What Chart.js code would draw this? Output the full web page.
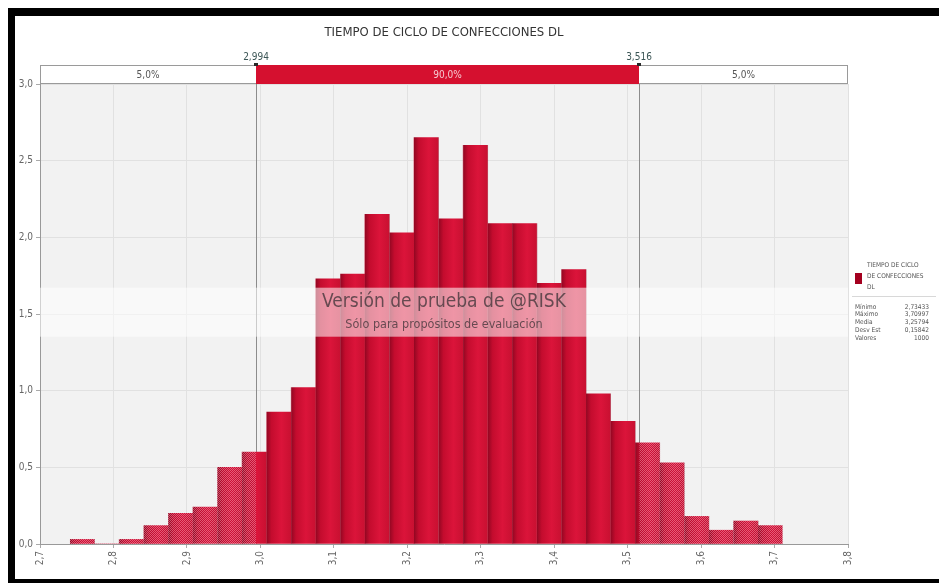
<!DOCTYPE html>
<html><head><meta charset="utf-8">
<script src="https://cdn.jsdelivr.net/npm/chart.js@4.4.1/dist/chart.umd.min.js"></script>
<style>
html,body{margin:0;padding:0;background:#fff;width:939px;height:583px;overflow:hidden}
#frame{position:absolute;left:8px;top:8px;width:960px;height:579px;box-sizing:border-box;border-top:8px solid #000;border-left:7px solid #000;border-bottom:8px solid #000}
#c{position:absolute;left:0;top:0}
</style></head><body>
<div id="frame"></div>
<canvas id="c" width="939" height="583"></canvas>
<script>
const FONT = "'Liberation Sans Narrow','DejaVu Sans Condensed','Arial Narrow',sans-serif";
const titleText = 'TIEMPO DE CICLO DE CONFECCIONES DL';
const binCenters = [2.7576,2.7911,2.8245,2.8580,2.8914,2.9249,2.9583,2.9918,3.0252,3.0587,
  3.0921,3.1256,3.1590,3.1925,3.2259,3.2594,3.2928,3.3263,3.3597,3.3932,
  3.4266,3.4601,3.4935,3.5270,3.5604,3.5939,3.6273,3.6608,3.6942];
const density = [0.03,0.00,0.03,0.12,0.20,0.24,0.50,0.60,0.86,1.02,
  1.73,1.76,2.15,2.03,2.65,2.12,2.60,2.09,2.09,1.70,
  1.79,0.98,0.80,0.66,0.53,0.18,0.09,0.15,0.12];
const xTicks = [2.7,2.8,2.9,3.0,3.1,3.2,3.3,3.4,3.5,3.6,3.7,3.8];
const xTickLabels = ['2,7','2,8','2,9','3,0','3,1','3,2','3,3','3,4','3,5','3,6','3,7','3,8'];
const yTicks = [0,0.5,1.0,1.5,2.0,2.5,3.0];
const yTickLabels = ['0,0','0,5','1,0','1,5','2,0','2,5','3,0'];
const percentileValues = [2.994, 3.516];
const percentileLabels = ['2,994','3,516'];
const bandLabels = ['5,0%','90,0%','5,0%'];
const legendLines = ['TIEMPO DE CICLO','DE CONFECCIONES','DL'];
const statNames = ['Mínimo','Máximo','Media','Desv Est','Valores'];
const statValues = ['2,73433','3,70997','3,25794','0,15842','1000'];
const watermark = ['Versión de prueba de @RISK','Sólo para propósitos de evaluación'];

let patCache = null;
function barFill(ctx){
  const chart = ctx.chart;
  const xs = chart.scales.x, area = chart.chartArea;
  if(!xs || !area) return '#c8102e';
  const key = [area.left,area.right,area.top,area.bottom].join('_');
  if(patCache && patCache.key===key) return patCache.pat;
  const W = chart.width, H = chart.height;
  const off = document.createElement('canvas'); off.width=W; off.height=H;
  const g = off.getContext('2d');
  const half = (binCenters[1]-binCenters[0])/2;
  const pL = xs.getPixelForValue(percentileValues[0]), pR = xs.getPixelForValue(percentileValues[1]);
  binCenters.forEach(c => {
    const x0 = xs.getPixelForValue(c-half), x1 = xs.getPixelForValue(c+half);
    const gr = g.createLinearGradient(x0,0,x1,0);
    gr.addColorStop(0,'#920722'); gr.addColorStop(0.2,'#c40c2e');
    gr.addColorStop(0.6,'#db143a'); gr.addColorStop(1,'#c81031');
    g.fillStyle = gr; g.fillRect(x0, area.top, x1-x0, area.bottom-area.top);
  });
  const tile = document.createElement('canvas'); tile.width=2; tile.height=2;
  const t = tile.getContext('2d');
  t.fillStyle='rgba(255,190,205,0.42)'; t.fillRect(0,0,1,1); t.fillRect(1,1,1,1);
  t.fillStyle='rgba(120,10,50,0.15)'; t.fillRect(1,0,1,1); t.fillRect(0,1,1,1);
  g.fillStyle = g.createPattern(tile,'repeat');
  g.fillRect(area.left, area.top, pL-area.left, area.bottom-area.top);
  g.fillRect(pR, area.top, area.right-pR, area.bottom-area.top);
  const pat = chart.ctx.createPattern(off,'no-repeat');
  patCache = {key, pat};
  return pat;
}

const decor = {
  id:'decor',
  beforeDraw(chart){
    const {ctx, chartArea:a} = chart;
    ctx.save();
    ctx.fillStyle='#f2f2f2';
    ctx.fillRect(a.left, a.top, a.right-a.left, a.bottom-a.top);
    ctx.restore();
  },
  beforeDatasetsDraw(chart){
    const {ctx, chartArea:a, scales:{x}} = chart;
    ctx.save();
    ctx.strokeStyle='#8c8c8c'; ctx.lineWidth=1;
    percentileValues.forEach(v=>{
      const px = Math.round(x.getPixelForValue(v))+0.5;
      ctx.beginPath(); ctx.moveTo(px, a.top-19); ctx.lineTo(px, a.bottom); ctx.stroke();
    });
    ctx.restore();
  },
  afterDatasetsDraw(chart){
    const {ctx, chartArea:a} = chart;
    const cy = a.top + 0.495*(a.bottom-a.top);
    const cx = (a.left+a.right)/2;
    ctx.save();
    ctx.fillStyle='rgba(255,255,255,0.55)';
    ctx.fillRect(a.left, cy-24, a.right-a.left, 49);
    ctx.fillStyle='rgba(70,55,60,0.8)';
    ctx.textAlign='center'; ctx.textBaseline='middle';
    ctx.font = '19px '+FONT;
    ctx.fillText(watermark[0], cx, cy-10);
    ctx.font = '12.5px '+FONT;
    ctx.fillText(watermark[1], cx, cy+13);
    ctx.restore();
  },
  afterDraw(chart){
    const {ctx, chartArea:a, scales:{x}} = chart;
    ctx.save();
    ctx.fillStyle='#333'; ctx.textAlign='center'; ctx.textBaseline='middle';
    ctx.font='13px '+FONT;
    ctx.fillText(titleText, (a.left+a.right)/2, 33);
    const bt = a.top-19, bh = 18;
    const pL = Math.round(x.getPixelForValue(percentileValues[0]));
    const pR = Math.round(x.getPixelForValue(percentileValues[1]));
    ctx.fillStyle='#fff'; ctx.fillRect(a.left, bt, a.right-a.left, bh);
    ctx.strokeStyle='#9a9a9a'; ctx.lineWidth=1;
    ctx.strokeRect(a.left+0.5, bt+0.5, a.right-a.left-1, bh);
    ctx.fillStyle='#d5102f'; ctx.fillRect(pL, bt, pR-pL, bh+1);
    ctx.font='10px '+FONT;
    ctx.fillStyle='#555';
    ctx.fillText(bandLabels[0], (a.left+pL)/2, bt+bh/2+1);
    ctx.fillText(bandLabels[2], (pR+a.right)/2, bt+bh/2+1);
    ctx.fillStyle='#f6c8d0';
    ctx.fillText(bandLabels[1], (pL+pR)/2, bt+bh/2+1);
    ctx.fillStyle='#3c5656';
    [pL,pR].forEach((px,i)=>{ ctx.fillText(percentileLabels[i], px, bt-8); });
    ctx.fillStyle='#2a2a2a';
    [pL,pR].forEach(px=>{ ctx.fillRect(px-2, bt-2, 4, 3); });
    const lx = a.right+7;
    ctx.fillStyle='#a4001f'; ctx.fillRect(lx, 273, 7, 11);
    ctx.fillStyle='#555'; ctx.textAlign='left'; ctx.font='6.5px '+FONT;
    legendLines.forEach((s,i)=>ctx.fillText(s, lx+12, 265+i*11));
    ctx.strokeStyle='#d8d8d8'; ctx.beginPath(); ctx.moveTo(lx-3, 296.5); ctx.lineTo(936, 296.5); ctx.stroke();
    statNames.forEach((s,i)=>{
      const y = 307+i*7.8;
      ctx.textAlign='left'; ctx.fillText(s, lx, y);
      ctx.textAlign='right'; ctx.fillText(statValues[i], 929, y);
    });
    ctx.restore();
  }
};

new Chart(document.getElementById('c'), {
  type:'bar',
  data:{ datasets:[{
    data: binCenters.map((c,i)=>({x:c, y:density[i]})),
    backgroundColor: barFill,
    borderWidth:0,
    barPercentage:1, categoryPercentage:1, grouped:false
  }]},
  options:{
    responsive:false, animation:false,
    layout:{padding:{top:84,right:91,bottom:9,left:0}},
    plugins:{legend:{display:false}, tooltip:{enabled:false}, title:{display:false}},
    scales:{
      x:{
        type:'linear', min:2.7, max:3.8, offset:false,
        afterBuildTicks: s => { s.ticks = xTicks.map(v=>({value:v})); },
        afterFit: s => { s.height = 30; },
        ticks:{ autoSkip:false, minRotation:90, maxRotation:90, padding:3,
          color:'#666', font:{family:FONT, size:10},
          callback:(v,i)=> xTickLabels[i] },
        grid:{ color:'#e1e1e1', tickColor:'#aaa', tickLength:4, offset:false },
        border:{ display:true, color:'#999' }
      },
      y:{
        min:0, max:3.0,
        afterBuildTicks: s => { s.ticks = yTicks.map(v=>({value:v})); },
        afterFit: s => { s.width = 40; },
        ticks:{ padding:3, color:'#666', font:{family:FONT, size:10},
          callback:(v,i)=> yTickLabels[i] },
        grid:{ color:'#e1e1e1', tickColor:'#aaa', tickLength:4 },
        border:{ display:true, color:'#999' }
      }
    }
  },
  plugins:[decor]
});
</script>
</body></html>
